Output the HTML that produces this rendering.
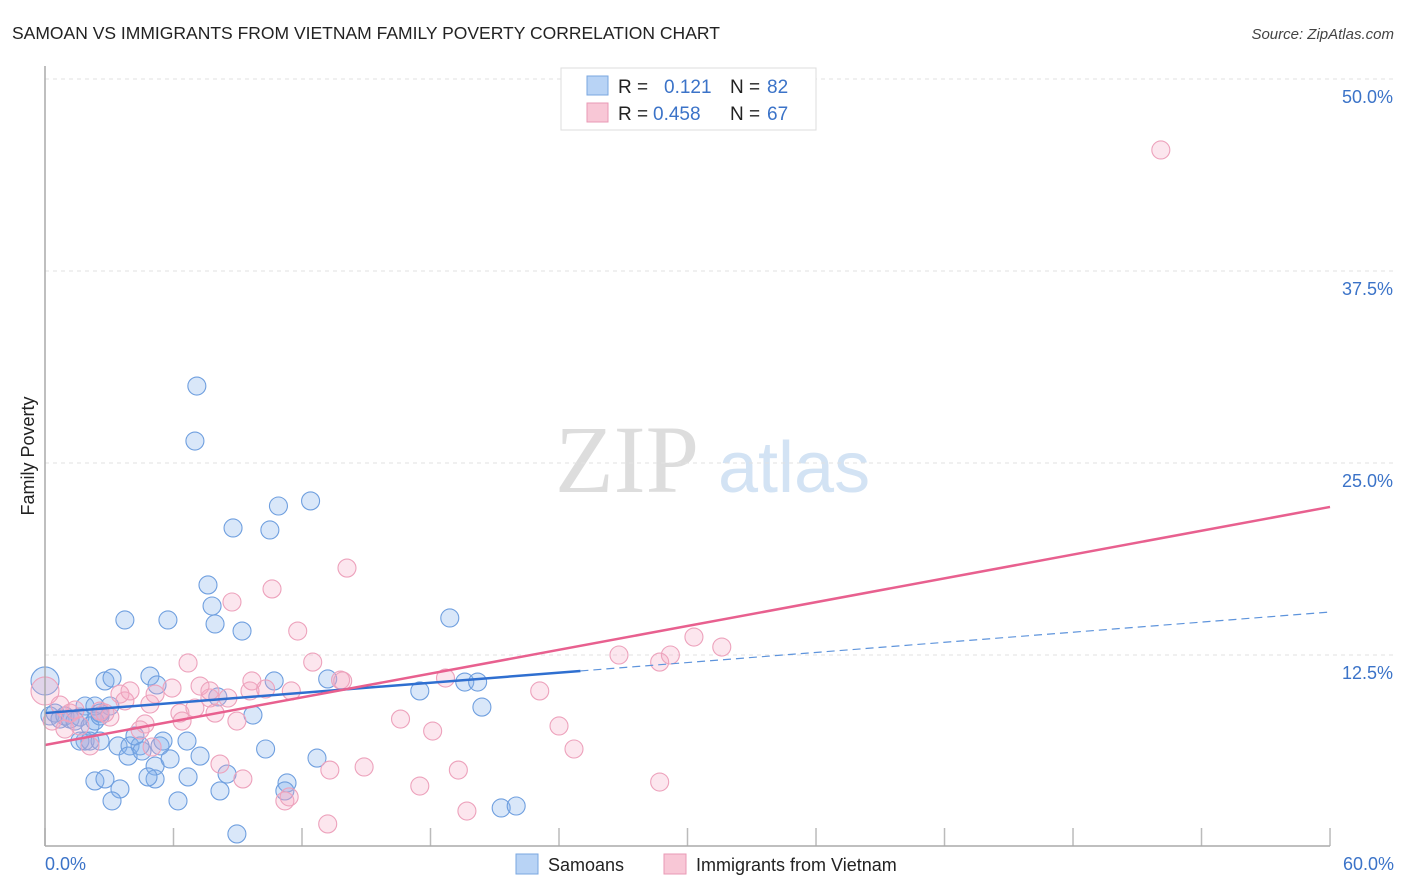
<!DOCTYPE html>
<html><head><meta charset="utf-8"><style>
body{margin:0;background:#fff;font-family:"Liberation Sans",sans-serif;}
#wrap{position:relative;width:1406px;height:892px;overflow:hidden}
</style></head><body>
<div id="wrap">
<svg id="svg" width="1406" height="892">
<text x="12" y="39" font-size="17.5" fill="#222">SAMOAN VS IMMIGRANTS FROM VIETNAM FAMILY POVERTY CORRELATION CHART</text>
<text x="1394" y="39" font-size="15" fill="#444" font-style="italic" text-anchor="end">Source: ZipAtlas.com</text>
<text x="555" y="492" font-size="96" fill="#ddd" font-family="Liberation Serif,serif">ZIP</text>
<text x="718" y="492" font-size="72" fill="#d3e3f4">atlas</text>
<text transform="translate(34,456) rotate(-90)" font-size="18" fill="#222" text-anchor="middle">Family Poverty</text>
<g id="grid"></g><g id="pts"></g><g id="lines"></g>
<line x1="45" y1="66" x2="45" y2="846" stroke="#aaa" stroke-width="1.5"/>
<line x1="45" y1="846" x2="1330" y2="846" stroke="#aaa" stroke-width="1.5"/>
<text x="45" y="870" font-size="18" fill="#3b73c8">0.0%</text>
<text x="1394" y="870" font-size="18" fill="#3b73c8" text-anchor="end">60.0%</text>
<g>
<rect x="561" y="68" width="255" height="62" fill="#fff" stroke="#ddd"/>
<rect x="587" y="76" width="21" height="19" fill="#b8d3f5" stroke="#7aa7e0"/>
<rect x="587" y="103" width="21" height="19" fill="#f8c7d6" stroke="#e99ab5"/>
<text x="618" y="93" font-size="19" fill="#222">R =</text><text x="664" y="93" font-size="19" fill="#3b73c8">0.121</text>
<text x="730" y="93" font-size="19" fill="#222">N =</text><text x="767" y="93" font-size="19" fill="#3b73c8">82</text>
<text x="618" y="120" font-size="19" fill="#222">R =</text><text x="653" y="120" font-size="19" fill="#3b73c8">0.458</text>
<text x="730" y="120" font-size="19" fill="#222">N =</text><text x="767" y="120" font-size="19" fill="#3b73c8">67</text>
</g>
<g>
<rect x="516" y="854" width="22" height="20" fill="#b8d3f5" stroke="#7aa7e0"/>
<text x="548" y="871" font-size="18" fill="#222">Samoans</text>
<rect x="664" y="854" width="22" height="20" fill="#f8c7d6" stroke="#e99ab5"/>
<text x="696" y="871" font-size="18" fill="#222">Immigrants from Vietnam</text>
</g>
</svg></div>
<script>
const yTicks=[12.5,25,37.5,50];
const yTickLabels=["12.5%","25.0%","37.5%","50.0%"];
const xTicks=[0,6,12,18,24,30,36,42,48,54,60];
const samoanX=[0,0.23,0.47,0.70,0.93,1.17,1.40,1.63,1.87,2.10,2.33,2.57,1.87,1.63,2.10,2.57,2.80,3.13,3.73,3.03,3.41,3.97,3.88,4.44,4.20,4.53,4.90,5.23,5.74,5.37,5.14,5.84,5.51,6.63,7.24,7.09,7.00,7.80,7.61,7.94,8.78,9.20,10.5,10.9,12.4,9.71,10.7,10.3,8.50,8.17,6.68,5.14,4.81,3.50,3.13,2.33,2.80,6.21,8.96,11.3,11.2,12.7,13.2,17.5,18.9,19.6,20.2,20.4,21.3,22.0,8.07,2.33,2.57];
const samoanY=[10.81,8.53,8.72,8.33,8.53,8.33,8.20,8.46,9.18,7.88,8.20,8.53,6.90,6.90,6.90,6.90,10.81,11.00,14.78,9.18,6.58,6.58,5.92,6.58,7.23,6.25,11.13,10.55,14.78,6.58,5.27,5.73,6.90,6.90,5.92,30.01,26.43,15.69,17.06,14.52,20.77,14.06,20.64,22.20,22.53,8.59,10.81,6.38,4.75,3.65,4.56,4.43,4.56,3.78,3.00,4.30,4.43,3.00,0.85,4.17,3.65,5.79,10.94,10.16,14.91,10.74,10.74,9.11,2.54,2.67,9.77,9.18,8.72];
const vietX=[0,0.33,0.93,1.17,1.63,2.10,2.57,3.03,3.50,3.73,4.67,4.90,5.14,5.93,6.30,6.40,6.68,7.24,7.70,7.94,8.54,8.73,8.96,9.57,9.66,10.3,10.6,11.5,11.8,12.5,13.8,13.9,14.1,13.3,14.9,16.6,17.5,18.1,18.7,19.3,19.7,23.1,24.0,24.7,26.8,28.7,28.7,29.2,30.3,31.6,52.1,11.2,11.4,13.2,9.24,8.17,5.00,4.44,2.80,3.97,1.40,0.70,7.00,7.70];
const vietY=[10.16,8.20,7.68,8.72,7.88,6.58,8.85,8.46,9.96,9.51,8.01,9.31,9.96,10.35,8.72,8.20,11.98,10.48,9.70,8.72,9.70,15.95,8.20,10.16,10.81,10.29,16.80,10.16,14.06,12.04,10.87,10.81,18.16,5.01,5.21,8.33,3.97,7.55,11.00,5.01,2.34,10.16,7.88,6.38,12.50,12.04,4.23,12.50,13.67,13.02,45.38,3.00,3.26,1.50,4.43,5.40,6.51,7.62,8.72,10.16,8.92,9.24,9.05,10.16];
const trendX=[0,60];
const samoanTrend=[8.72,15.3];
const samoanSolidEnd=25;
const vietTrend=[6.64,22.14];
const NS="http://www.w3.org/2000/svg";
const sx=v=>45+v*21.417, sy=v=>847-v*15.36;
function mk(t,a,p){const e=document.createElementNS(NS,t);for(const k in a)e.setAttribute(k,a[k]);p.appendChild(e);return e;}
const grid=document.getElementById('grid'),pts=document.getElementById('pts'),lines=document.getElementById('lines');
yTicks.forEach((v,i)=>{
 const l=mk('line',{x1:45,x2:1394,y1:sy(v),y2:sy(v),stroke:'#e2e2e2','stroke-dasharray':'4,4'},grid);
 
 
 const t=mk('text',{x:1393,y:sy(v)+24,'font-size':18,fill:'#3b73c8','text-anchor':'end'},grid);t.textContent=yTickLabels[i];
 
 
});
xTicks.forEach(v=>{
 const l=mk('line',{x1:sx(v),x2:sx(v),y1:828,y2:846,stroke:'#bbb','stroke-width':1.5},grid);
 
 
});
function dots(X,Y,fill,stroke,name){X.forEach((x,i)=>{
 const r=(i===0)?14:9;
 const c=mk('circle',{cx:sx(x),cy:sy(Y[i]),r:r,fill:fill,stroke:stroke,'stroke-width':1.1},pts);
 
 
});}
dots(samoanX,samoanY,'rgba(130,175,235,0.3)','#6f9fdf','samoan-point');
dots(vietX,vietY,'rgba(245,165,195,0.28)','#eda2bc','vietnam-point');
const sl=(x)=>samoanTrend[0]+(samoanTrend[1]-samoanTrend[0])*(x-trendX[0])/(trendX[1]-trendX[0]);
let a=mk('line',{x1:sx(0),y1:sy(sl(0)),x2:sx(samoanSolidEnd),y2:sy(sl(samoanSolidEnd)),stroke:'#2f6fd0','stroke-width':2.5},lines);


a=mk('line',{x1:sx(samoanSolidEnd),y1:sy(sl(samoanSolidEnd)),x2:sx(60),y2:sy(sl(60)),stroke:'#5e94dc','stroke-width':1.2,'stroke-dasharray':'8,5'},lines);


a=mk('line',{x1:sx(trendX[0]),y1:sy(vietTrend[0]),x2:sx(trendX[1]),y2:sy(vietTrend[1]),stroke:'#e8608f','stroke-width':2.5},lines);


</script>
</body></html>
